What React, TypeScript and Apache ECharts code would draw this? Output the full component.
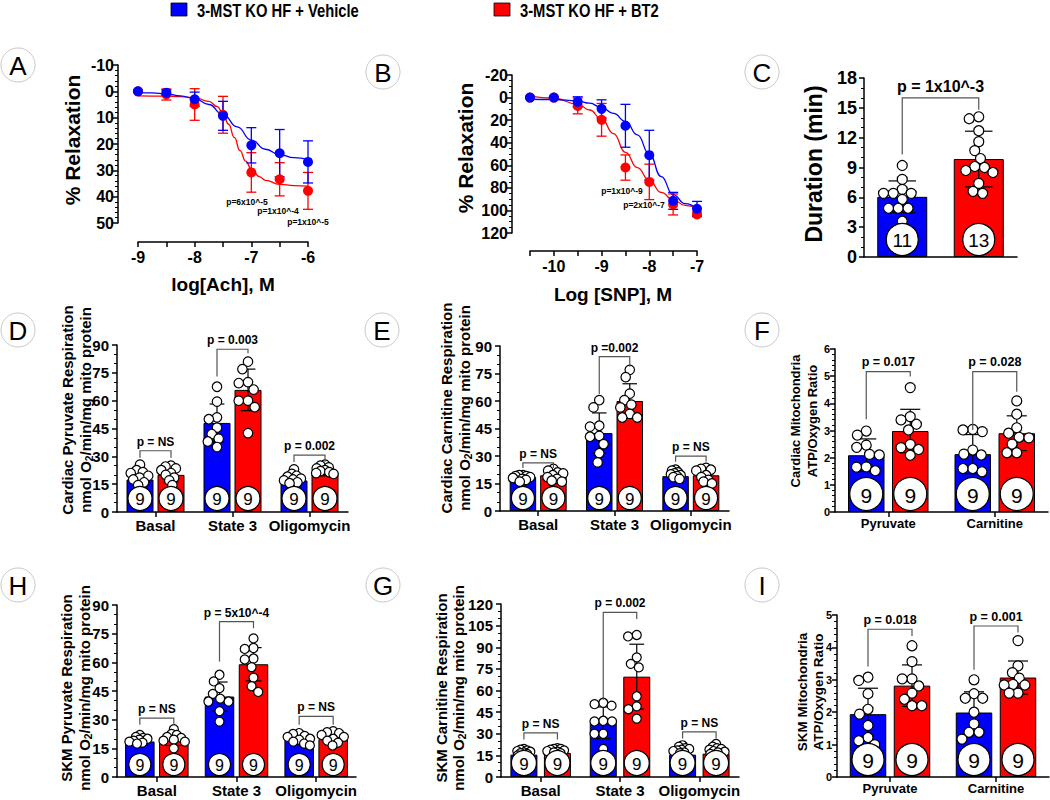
import React, { useEffect, useRef } from 'react';
import * as echarts from 'echarts';

const BLUE = '#0000FF';
const RED = '#FF0000';
const FONT = '"Liberation Sans", Arial, Helvetica, sans-serif';
const seriesNames = ['3-MST KO HF + Vehicle', '3-MST KO HF + BT2'];

// ---------- Panel A : log[Ach] ----------
const aDoses = [-9, -8.5, -8, -7.5, -7, -6.5, -6];
const aVehMean = [0, 0.5, 3, 9.3, 20.5, 23.5, 26.8];
const aVehSd = [0.4, 1, 2.7, 5.5, 6.7, 9, 8];
const aBt2Mean = [0, 1.2, 5, 8.9, 30.8, 33.4, 37.8];
const aBt2Sd = [0.4, 2.1, 6, 7, 7.5, 6.3, 7];
const aVehFit = [[-9, 0.4], [-8.75, 0.6], [-8.5, 1.0], [-8.25, 1.7], [-8, 2.8], [-7.75, 5], [-7.5, 8.8], [-7.25, 13.5], [-7, 18.5], [-6.75, 22], [-6.5, 24], [-6.25, 25.2], [-6, 25.8]];
const aBt2Fit = [[-9, 1.7], [-8.5, 1.8], [-8.25, 2.0], [-8, 2.4], [-7.75, 3.8], [-7.6, 5.8], [-7.5, 8.5], [-7.4, 12.5], [-7.3, 17.5], [-7.2, 22.5], [-7.1, 26.5], [-7, 29.5], [-6.85, 32.5], [-6.75, 33.8], [-6.5, 35.3], [-6.25, 35.8], [-6, 36]];
const aNotes = ['p=6x10^-5', 'p=1x10^-4', 'p=1x10^-5'];

// ---------- Panel B : Log [SNP] ----------
const bDoses = [-10.5, -10, -9.5, -9, -8.5, -8, -7.5, -7];
const bVehMean = [0, 0, 3.8, 10, 25, 51, 91.5, 98.5];
const bVehSd = [0.5, 0.5, 4.5, 8, 19, 22, 7.5, 6.5];
const bBt2Mean = [0, 0, 7.4, 19.7, 62, 74.7, 94.7, 103.5];
const bBt2Sd = [0.5, 0.5, 7, 14.5, 11.2, 15.7, 9.3, 2];
const bVehFit = [[-10.5, 1.5], [-10, 1.7], [-9.5, 3], [-9.25, 5], [-9, 8.8], [-8.75, 14], [-8.5, 21], [-8.25, 33], [-8, 50], [-7.75, 70], [-7.5, 86], [-7.25, 94], [-7, 98.5]];
const bBt2Fit = [[-10.5, -1.2], [-10, 0.6], [-9.5, 5.9], [-9.25, 11], [-9, 19], [-8.75, 32], [-8.5, 48.5], [-8.25, 62], [-8, 73.5], [-7.75, 84], [-7.5, 90.6], [-7.25, 95.6], [-7, 98.5]];
const bNotes = ['p=1x10^-9', 'p=2x10^-7'];

// ---------- Panel C : Duration ----------
const cCats = ['Vehicle', 'BT2'];
const cVehMean = [6.05];
const cVehSd = [1.6];
const cBt2Mean = [9.85];
const cBt2Sd = [2.8];
const cVehDots = [[9.2, 7.8, 6.8, 6.4, 6.4, 6.4, 5.8, 4.9, 4.9, 4.9, 3.6]];
const cBt2Dots = [[14.1, 13.9, 12.7, 11.6, 10.7, 9.9, 9.1, 9.0, 8.7, 8.5, 7.4, 6.6, 6.4]];
const cVehN = [11];
const cBt2N = [13];
const cBrackets = [{ text: 'p = 1x10^-3', top: 16.0, l: 10.3, r: 14.8 }];

// ---------- Respiration categories ----------
const respCats = ['Basal', 'State 3', 'Oligomycin'];
const ratioCats = ['Pyruvate', 'Carnitine'];

// ---------- Panel D ----------
const dVehMean = [17.5, 48, 17];
const dVehSd = [3.5, 10.2, 2.5];
const dBt2Mean = [20, 65.8, 21.5];
const dBt2Sd = [3.8, 11.2, 2];
const dVehDots = [[25.5, 22.5, 21.5, 21, 19.5, 18.5, 17.5, 16, 14.5], [67.5, 59.5, 51, 50, 45.5, 42, 39.5, 38, 35], [23, 20.5, 19.5, 19, 18, 17.5, 17, 16, 15.5]];
const dBt2Dots = [[25, 24.5, 23.5, 22.5, 21, 20, 18.5, 17, 14.5], [81, 77, 70, 69.5, 66, 60, 60, 56.5, 42.5], [25.5, 25, 24, 23.5, 22.5, 22, 21.5, 21, 20.5]];
const dN = [9, 9, 9];
const dBrackets = [
  { text: 'p = NS', top: 33, l: 29.3, r: 29.3 },
  { text: 'p = 0.003', top: 87.7, l: 73, r: 85.5 },
  { text: 'p = 0.002', top: 30.6, l: 27, r: 27 },
];

// ---------- Panel E ----------
const eVehMean = [18.5, 42.5, 19];
const eVehSd = [1.5, 11, 1.5];
const eBt2Mean = [19.5, 60, 19.5];
const eBt2Sd = [2.5, 9.4, 3];
const eVehDots = [[19.5, 19.5, 19, 19, 18.5, 18, 17.5, 17, 16], [60.5, 56.5, 46.5, 46, 41, 40.5, 36.5, 31.5, 26.5], [22.5, 22, 21, 20.5, 20, 19.5, 19, 18.5, 17.5]];
const eBt2Dots = [[23, 22, 21, 20.5, 19.5, 18.5, 17.5, 16.5, 16], [77, 73, 64, 60.5, 58, 56.5, 53, 51, 51], [23.5, 23, 22.5, 22, 19.5, 18.5, 17, 16, 15]];
const eN = [9, 9, 9];
const eBrackets = [
  { text: 'p = NS', top: 26.2, l: 23.5, r: 23.5 },
  { text: 'p =0.002', top: 84.2, l: 63.8, r: 78.7 },
  { text: 'p = NS', top: 29.9, l: 26.8, r: 26.8 },
];

// ---------- Panel F ----------
const fVehMean = [2.09, 2.13];
const fVehSd = [0.6, 0.72];
const fBt2Mean = [2.98, 2.9];
const fBt2Sd = [0.8, 0.64];
const fVehDots = [[2.98, 2.83, 2.46, 2.38, 2.12, 2.1, 1.66, 1.65, 1.52], [3.04, 3.02, 2.96, 2.28, 2.13, 2.1, 1.6, 1.6, 1.48]];
const fBt2Dots = [[4.58, 3.51, 3.39, 3.23, 3.02, 2.49, 2.37, 2.3, 2.09], [4.09, 3.6, 3.1, 2.9, 2.75, 2.73, 2.5, 2.18, 2.18]];
const fN = [9, 9];
const fBrackets = [
  { text: 'p = 0.017', top: 5.17, l: 3.41, r: 4.99 },
  { text: 'p = 0.028', top: 5.17, l: 3.02, r: 4.43 },
];

// ---------- Panel H ----------
const hVehMean = [18.6, 42.1, 19.5];
const hVehSd = [2, 7.6, 2.5];
const hBt2Mean = [19.5, 59, 19.8];
const hBt2Sd = [3, 8.7, 2.5];
const hVehDots = [[22, 21, 20.5, 20, 19.5, 19, 18.5, 18, 17.5], [53.5, 50, 46.5, 43.5, 41, 39.5, 39.5, 34.5, 29], [23, 22.5, 21.5, 21, 20, 19.5, 18.5, 17.5, 16.5]];
const hBt2Dots = [[25, 22.5, 22, 21, 20.5, 19.5, 19, 18.5, 15], [72.5, 67.5, 67, 62, 61.5, 57.5, 52, 47.5, 44.5], [24, 23.5, 23, 22, 21, 20, 19, 18, 16.5]];
const hN = [9, 9, 9];
const hBrackets = [
  { text: 'p = NS', top: 30.8, l: 27.3, r: 27.3 },
  { text: 'p = 5x10^-4', top: 81.3, l: 60.4, r: 77.8 },
  { text: 'p = NS', top: 31.7, l: 27.3, r: 27.3 },
];

// ---------- Panel G ----------
const gVehMean = [15.5, 37.6, 15.5];
const gVehSd = [2, 11, 2.5];
const gBt2Mean = [16.7, 69.6, 16.2];
const gBt2Sd = [1.5, 22.5, 2.5];
const gVehDots = [[19.5, 19, 18.5, 18, 17.5, 17, 16.5, 16, 15], [51.5, 50.5, 49.5, 39, 38.5, 38.5, 30, 30, 19.5], [22, 21, 20, 19.5, 19, 18.5, 18, 17, 16.5]];
const gBt2Dots = [[20, 19.5, 19.5, 19, 18.5, 18, 17.5, 17, 16.5], [98.5, 97.5, 83, 78.5, 76, 56, 49, 47, 40.5], [23, 21, 20, 19.5, 19, 18, 17.5, 17, 16]];
const gN = [9, 9, 9];
const gBrackets = [
  { text: 'p = NS', top: 30.6, l: 26, r: 26 },
  { text: 'p = 0.002', top: 114.2, l: 53.4, r: 109.6 },
  { text: 'p = NS', top: 31.3, l: 26.7, r: 26.7 },
];

// ---------- Panel I ----------
const iVehMean = [1.94, 1.99];
const iVehSd = [0.8, 0.64];
const iBt2Mean = [2.82, 3.07];
const iBt2Sd = [0.64, 0.51];
const iVehDots = [[3.08, 2.98, 2.57, 2.09, 1.94, 1.59, 1.22, 1.12, 1.0], [3.0, 2.57, 2.43, 2.43, 2.0, 1.64, 1.38, 1.38, 1.17]];
const iBt2Dots = [[4.05, 3.56, 3.03, 3.03, 2.81, 2.59, 2.4, 2.2, 2.2], [4.21, 3.43, 3.22, 3.05, 2.86, 2.84, 2.84, 2.59, 2.59]];
const iN = [9, 9];
const iBrackets = [
  { text: 'p = 0.018', top: 4.56, l: 3.41, r: 4.35 },
  { text: 'p = 0.001', top: 4.66, l: 3.31, r: 4.46 },
];

// ---------- helpers ----------
const axisLineStyle = { color: '#000', width: 1.5 };

function swarmOnce(values: number[], d: number, ppu: number): number[] {
  const order = values.map((_, i) => i).sort((a, b) => values[b] - values[a]);
  const placed: { x: number; y: number }[] = [];
  const res = new Array(values.length).fill(0);
  for (const i of order) {
    const y = values[i] * ppu;
    const near = placed.filter((p) => Math.abs(p.y - y) < d);
    const cands = [0];
    near.forEach((p) => {
      const dx = Math.sqrt(d * d - (p.y - y) * (p.y - y));
      cands.push(p.x - dx, p.x + dx);
    });
    cands.sort((a, b) => Math.abs(a) - Math.abs(b) || a - b);
    let chosen = 0;
    for (const c of cands) {
      if (near.every((p) => Math.hypot(c - p.x, p.y - y) >= d - 1e-6)) {
        chosen = c;
        break;
      }
    }
    placed.push({ x: chosen, y });
    res[i] = chosen;
  }
  return res;
}

function swarmOffsets(values: number[], d: number, ppu: number, limit: number): number[] {
  let offs = swarmOnce(values, d, ppu);
  for (let s = 0.9; s >= 0.35; s -= 0.05) {
    if (Math.max(...offs.map(Math.abs)) <= limit) break;
    offs = swarmOnce(values, d * s, ppu);
  }
  return offs.map((o) => Math.max(-limit, Math.min(limit, o)));
}

function labelStyle(size: number, margin: number, extra: any = {}) {
  return { color: '#000', fontFamily: FONT, fontWeight: 'bold', fontSize: size, margin, ...extra };
}

function addCurvePanel(p: any, acc: any) {
  const gi = acc.grid.length;
  acc.grid.push({ left: p.grid[0], top: p.grid[1], width: p.grid[2], height: p.grid[3] });
  acc.xAxis.push({
    type: 'value', gridIndex: gi, min: p.xMin, max: p.xMax, interval: 0.5, offset: p.xOffset,
    axisLine: { show: true, onZero: false, lineStyle: axisLineStyle },
    axisTick: { show: true, length: 5, lineStyle: axisLineStyle },
    axisLabel: labelStyle(16, 7, { formatter: (v: number) => (Math.abs(v - Math.round(v)) < 1e-6 ? String(Math.round(v)) : '') }),
    splitLine: { show: false },
  });
  acc.yAxis.push({
    type: 'value', gridIndex: gi, inverse: true, min: p.yMin, max: p.yMax, interval: p.yInt, offset: p.yOffset,
    axisLine: { show: true, onZero: false, lineStyle: axisLineStyle },
    axisTick: { show: true, length: 5, lineStyle: axisLineStyle },
    minorTick: { show: true, splitNumber: p.minor, length: 3, lineStyle: { color: '#000', width: 1 } },
    axisLabel: labelStyle(16, 4),
    splitLine: { show: false },
    minorSplitLine: { show: false },
  });
  const groups = [
    { name: seriesNames[1], color: RED, mean: p.bt2Mean, sd: p.bt2Sd, fit: p.bt2Fit },
    { name: seriesNames[0], color: BLUE, mean: p.vehMean, sd: p.vehSd, fit: p.vehFit },
  ];
  groups.forEach((g) => {
    acc.series.push({
      type: 'line', name: g.name + ' fit', xAxisIndex: gi, yAxisIndex: gi,
      data: g.fit, smooth: true, smoothMonotone: 'x', showSymbol: false, symbol: 'none',
      lineStyle: { color: g.color, width: 1.3 }, z: 2, silent: true, clip: false,
    });
    acc.series.push({
      type: 'custom', name: g.name + ' SD', xAxisIndex: gi, yAxisIndex: gi, clip: false, z: 3, silent: true,
      data: p.doses.map((x: number, i: number) => [x, g.mean[i], g.sd[i]]),
      encode: { x: 0, y: 1 },
      renderItem: (_: any, api: any) => {
        const x = api.value(0), m = api.value(1), s = api.value(2);
        const t = api.coord([x, m - s]);
        const b = api.coord([x, m + s]);
        const st = { stroke: g.color, lineWidth: 1.3 };
        return {
          type: 'group', children: [
            { type: 'line', shape: { x1: t[0], y1: t[1], x2: b[0], y2: b[1] }, style: st },
            { type: 'line', shape: { x1: t[0] - 5, y1: t[1], x2: t[0] + 5, y2: t[1] }, style: st },
            { type: 'line', shape: { x1: b[0] - 5, y1: b[1], x2: b[0] + 5, y2: b[1] }, style: st },
          ],
        };
      },
    });
    acc.series.push({
      type: 'scatter', name: g.name, xAxisIndex: gi, yAxisIndex: gi,
      data: p.doses.map((x: number, i: number) => [x, g.mean[i]]),
      symbol: 'circle', symbolSize: 10, itemStyle: { color: g.color, opacity: 1 }, z: 4, clip: false, silent: true,
    });
  });
}

function addBarPanel(p: any, acc: any) {
  const gi = acc.grid.length;
  const [gl, gt, gw, gh] = p.grid;
  acc.grid.push({ left: gl, top: gt, width: gw, height: gh });
  acc.xAxis.push({
    type: 'category', gridIndex: gi, data: p.cats,
    axisLine: { show: true, lineStyle: axisLineStyle },
    axisTick: { show: p.showCats, alignWithLabel: true, length: 5, lineStyle: axisLineStyle },
    axisLabel: labelStyle(p.catFont, p.catMargin, { show: p.showCats, interval: 0 }),
    splitLine: { show: false },
  });
  acc.yAxis.push({
    type: 'value', gridIndex: gi, min: 0, max: p.yMax, interval: p.yInt,
    axisLine: { show: true, lineStyle: axisLineStyle },
    axisTick: { show: true, length: 5, lineStyle: axisLineStyle },
    minorTick: { show: true, splitNumber: p.minor, length: 3, lineStyle: { color: '#000', width: 1 } },
    axisLabel: labelStyle(p.tickFont, p.yMargin),
    splitLine: { show: false },
    minorSplitLine: { show: false },
  });
  const ppu = gh / p.yMax;
  const off = p.single ? 0 : (p.barW + p.gap) / 2;
  const bars: any[] = [];
  if (p.single) {
    bars.push({ cat: 0, off: 0, mean: p.vehMean[0], sd: p.vehSd[0], dots: p.vehDots[0], n: p.vehN[0] });
    bars.push({ cat: 1, off: 0, mean: p.bt2Mean[0], sd: p.bt2Sd[0], dots: p.bt2Dots[0], n: p.bt2N[0] });
  } else {
    p.cats.forEach((_: string, i: number) => {
      bars.push({ cat: i, off: -off, mean: p.vehMean[i], sd: p.vehSd[i], dots: p.vehDots[i], n: p.vehN[i] });
      bars.push({ cat: i, off: off, mean: p.bt2Mean[i], sd: p.bt2Sd[i], dots: p.bt2Dots[i], n: p.bt2N[i] });
    });
  }
  const barCommon = { xAxisIndex: gi, yAxisIndex: gi, barWidth: p.barW, z: 2, silent: true };
  if (p.single) {
    acc.series.push({ ...barCommon, type: 'bar', name: seriesNames[0], stack: 'c' + gi, data: [p.vehMean[0], '-'], itemStyle: { color: BLUE, borderColor: '#000', borderWidth: 1 } });
    acc.series.push({ ...barCommon, type: 'bar', name: seriesNames[1], stack: 'c' + gi, data: ['-', p.bt2Mean[0]], itemStyle: { color: RED, borderColor: '#000', borderWidth: 1 } });
  } else {
    const barGap = (p.gap / p.barW) * 100 + '%';
    acc.series.push({ ...barCommon, type: 'bar', name: seriesNames[0], barGap, data: p.vehMean, itemStyle: { color: BLUE, borderColor: '#000', borderWidth: 1 } });
    acc.series.push({ ...barCommon, type: 'bar', name: seriesNames[1], barGap, data: p.bt2Mean, itemStyle: { color: RED, borderColor: '#000', borderWidth: 1 } });
  }
  const capHalf = (p.barW * 0.55) / 2;
  // error bars
  acc.series.push({
    type: 'custom', name: 'SD', xAxisIndex: gi, yAxisIndex: gi, clip: false, z: 3, silent: true,
    data: bars.map((b) => [b.cat, b.mean, b.sd, b.off]),
    encode: { x: 0, y: 1 },
    renderItem: (_: any, api: any) => {
      const c = api.value(0), m = api.value(1), s = api.value(2), o = api.value(3);
      const t = api.coord([c, m + s]);
      const b = api.coord([c, m - s]);
      const x = t[0] + o;
      const st = { stroke: '#000', lineWidth: 1.2 };
      return {
        type: 'group', children: [
          { type: 'line', shape: { x1: x, y1: t[1], x2: x, y2: b[1] }, style: st },
          { type: 'line', shape: { x1: x - capHalf, y1: t[1], x2: x + capHalf, y2: t[1] }, style: st },
          { type: 'line', shape: { x1: x - capHalf, y1: b[1], x2: x + capHalf, y2: b[1] }, style: st },
        ],
      };
    },
  });
  // individual dots
  const dotData: any[] = [];
  const limit = p.barW / 2 - p.dotD * 0.35;
  bars.forEach((b) => {
    const offs = swarmOffsets(b.dots, p.dotD * 0.98, ppu, limit);
    b.dots.forEach((v: number, k: number) => dotData.push([b.cat, v, b.off + offs[k]]));
  });
  acc.series.push({
    type: 'custom', name: 'Individual values', xAxisIndex: gi, yAxisIndex: gi, clip: false, z: 4, silent: true,
    data: dotData, encode: { x: 0, y: 1 },
    renderItem: (_: any, api: any) => {
      const c = api.coord([api.value(0), api.value(1)]);
      return { type: 'circle', shape: { cx: c[0] + api.value(2), cy: c[1], r: p.dotD / 2 }, style: { fill: '#fff', stroke: '#000', lineWidth: 1.2 } };
    },
  });
  // n circles
  acc.series.push({
    type: 'custom', name: 'n', xAxisIndex: gi, yAxisIndex: gi, clip: false, z: 5, silent: true,
    data: bars.map((b) => [b.cat, 0, b.off, b.n]), encode: { x: 0, y: 1 },
    renderItem: (_: any, api: any) => {
      const c = api.coord([api.value(0), 0]);
      const cx = c[0] + api.value(2);
      const cy = c[1] - p.circleR - 1.5;
      return {
        type: 'group', children: [
          { type: 'circle', shape: { cx, cy, r: p.circleR }, style: { fill: '#fff', stroke: '#000', lineWidth: 1.2 } },
          { type: 'text', x: cx, y: cy + 1, style: { text: String(api.value(3)), align: 'center', textAlign: 'center', verticalAlign: 'middle', textVerticalAlign: 'middle', fontSize: p.nFont, fontFamily: FONT, fill: '#000' } },
        ],
      };
    },
  });
  // brackets
  acc.series.push({
    type: 'custom', name: 'p values', xAxisIndex: gi, yAxisIndex: gi, clip: false, z: 5, silent: true,
    data: p.brackets.map((b: any, i: number) => (p.single ? [0, b.top, b.l, b.r, 0, 1, 0] : [i, b.top, b.l, b.r, -off, i, off])),
    encode: { x: 0, y: 1 },
    renderItem: (params: any, api: any) => {
      const b = p.brackets[params.dataIndex];
      const pL = api.coord([api.value(0), api.value(2)]);
      const pT = api.coord([api.value(0), api.value(1)]);
      const pR = api.coord([api.value(5), api.value(3)]);
      const xl = pL[0] + api.value(4);
      const xr = pR[0] + api.value(6);
      return {
        type: 'group', children: [
          { type: 'polyline', shape: { points: [[xl, pL[1]], [xl, pT[1]], [xr, pT[1]], [xr, pR[1]]] }, style: { stroke: '#555', lineWidth: 1.2, fill: null } },
          { type: 'text', x: (xl + xr) / 2, y: pT[1] - 3, style: { text: b.text, align: 'center', textAlign: 'center', verticalAlign: 'bottom', textVerticalAlign: 'bottom', fontSize: p.pFont, fontWeight: 'bold', fontFamily: FONT, fill: '#000' } },
        ],
      };
    },
  });
}

function gText(x: number, y: number, text: string, size: number, opts: any = {}) {
  return {
    type: 'text', x, y, rotation: opts.rot || 0, scaleX: opts.sx || 1, silent: true, z: 10,
    style: {
      text, font: `${opts.weight || 'bold'} ${size}px ${FONT}`, fill: '#000',
      align: opts.align || 'center', textAlign: opts.align || 'center',
      verticalAlign: 'middle', textVerticalAlign: 'middle',
      rich: opts.rich,
    },
  };
}

function subTitle(x: number, y: number, size: number) {
  return gText(x, y, 'nmol O{sub|2}/min/mg mito protein', size, {
    rot: Math.PI / 2,
    rich: { sub: { fontSize: size * 0.68, fontWeight: 'bold', fontFamily: FONT, padding: [8, 0, 0, 0] } },
  });
}

function panelLetter(x: number, y: number, letter: string) {
  return [
    { type: 'circle', shape: { cx: x, cy: y, r: 17 }, style: { fill: '#fff', stroke: '#c8c8c8', lineWidth: 1 }, silent: true, z: 9 },
    gText(x, y + 1, letter, 26, { weight: 'normal' }),
  ];
}

function buildOption() {
  const acc: any = { grid: [], xAxis: [], yAxis: [], series: [] };
  addCurvePanel({ grid: [138, 65, 170, 158], xMin: -9, xMax: -6, xOffset: 19, yMin: -10, yMax: 50, yInt: 10, yOffset: 20, minor: 5,
    doses: aDoses, vehMean: aVehMean, vehSd: aVehSd, bt2Mean: aBt2Mean, bt2Sd: aBt2Sd, vehFit: aVehFit, bt2Fit: aBt2Fit }, acc);
  addCurvePanel({ grid: [530, 75, 167, 158], xMin: -10.5, xMax: -7, xOffset: 18, yMin: -20, yMax: 120, yInt: 20, yOffset: 18, minor: 4,
    doses: bDoses, vehMean: bVehMean, vehSd: bVehSd, bt2Mean: bBt2Mean, bt2Sd: bBt2Sd, vehFit: bVehFit, bt2Fit: bBt2Fit }, acc);
  addBarPanel({ single: true, grid: [864, 78, 153, 179], cats: cCats, showCats: false, yMax: 18, yInt: 3, minor: 3, barW: 50, gap: 0,
    vehMean: cVehMean, vehSd: cVehSd, bt2Mean: cBt2Mean, bt2Sd: cBt2Sd, vehDots: cVehDots, bt2Dots: cBt2Dots, vehN: cVehN, bt2N: cBt2N, brackets: cBrackets,
    dotD: 10, circleR: 16, nFont: 19, tickFont: 18, yMargin: 7, catFont: 15, catMargin: 6, pFont: 16 }, acc);
  const resp = { cats: respCats, showCats: true, minor: 3, yInt: 15, catFont: 15, catMargin: 6, tickFont: 15, yMargin: 8, pFont: 12 };
  addBarPanel({ ...resp, grid: [117, 345, 231, 167], yMax: 90, barW: 27, gap: 4, dotD: 9.5, circleR: 12, nFont: 17,
    vehMean: dVehMean, vehSd: dVehSd, bt2Mean: dBt2Mean, bt2Sd: dBt2Sd, vehDots: dVehDots, bt2Dots: dBt2Dots, vehN: dN, bt2N: dN, brackets: dBrackets }, acc);
  addBarPanel({ ...resp, grid: [500, 346, 229, 165], yMax: 90, barW: 26.5, gap: 4, dotD: 9.5, circleR: 11.5, nFont: 17,
    vehMean: eVehMean, vehSd: eVehSd, bt2Mean: eBt2Mean, bt2Sd: eBt2Sd, vehDots: eVehDots, bt2Dots: eBt2Dots, vehN: eN, bt2N: eN, brackets: eBrackets }, acc);
  addBarPanel({ cats: ratioCats, showCats: true, minor: 5, yInt: 1, catFont: 13, catMargin: 5, tickFont: 11, yMargin: 5, pFont: 12.5,
    grid: [835, 349, 213, 163], yMax: 6, barW: 36.5, gap: 7.5, dotD: 10, circleR: 16.5, nFont: 21,
    vehMean: fVehMean, vehSd: fVehSd, bt2Mean: fBt2Mean, bt2Sd: fBt2Sd, vehDots: fVehDots, bt2Dots: fBt2Dots, vehN: fN, bt2N: fN, brackets: fBrackets }, acc);
  addBarPanel({ ...resp, grid: [117, 605, 239, 172], yMax: 90, barW: 29.5, gap: 4.5, dotD: 9, circleR: 11, nFont: 16,
    vehMean: hVehMean, vehSd: hVehSd, bt2Mean: hBt2Mean, bt2Sd: hBt2Sd, vehDots: hVehDots, bt2Dots: hBt2Dots, vehN: hN, bt2N: hN, brackets: hBrackets }, acc);
  addBarPanel({ ...resp, grid: [501, 604, 238, 173], yMax: 120, barW: 27, gap: 6.5, dotD: 9, circleR: 12.5, nFont: 17,
    vehMean: gVehMean, vehSd: gVehSd, bt2Mean: gBt2Mean, bt2Sd: gBt2Sd, vehDots: gVehDots, bt2Dots: gBt2Dots, vehN: gN, bt2N: gN, brackets: gBrackets }, acc);
  addBarPanel({ cats: ratioCats, showCats: true, minor: 5, yInt: 1, catFont: 13, catMargin: 5, tickFont: 11, yMargin: 5, pFont: 12.5,
    grid: [837, 615, 212, 162], yMax: 5, barW: 36.5, gap: 7.5, dotD: 10, circleR: 16, nFont: 21,
    vehMean: iVehMean, vehSd: iVehSd, bt2Mean: iBt2Mean, bt2Sd: iBt2Sd, vehDots: iVehDots, bt2Dots: iBt2Dots, vehN: iN, bt2N: iN, brackets: iBrackets }, acc);

  const rot = Math.PI / 2;
  const elements: any[] = [
    // legend
    { type: 'rect', shape: { x: 171, y: 3, width: 16, height: 13 }, style: { fill: BLUE, stroke: '#000', lineWidth: 0.8 }, silent: true },
    gText(197, 10, seriesNames[0], 18, { align: 'left', sx: 0.82 }),
    { type: 'rect', shape: { x: 494, y: 3, width: 16, height: 13 }, style: { fill: RED, stroke: '#000', lineWidth: 0.8 }, silent: true },
    gText(520, 10, seriesNames[1], 18, { align: 'left', sx: 0.82 }),
    // panel letters
    ...panelLetter(18, 65, 'A'),
    ...panelLetter(383, 72, 'B'),
    ...panelLetter(762, 72, 'C'),
    ...panelLetter(18, 330, 'D'),
    ...panelLetter(382, 330, 'E'),
    ...panelLetter(762, 330, 'F'),
    ...panelLetter(18, 585, 'H'),
    ...panelLetter(383, 585, 'G'),
    ...panelLetter(762, 585, 'I'),
    // axis titles
    gText(72, 140, '% Relaxation', 21, { rot }),
    gText(223, 284, 'log[Ach], M', 19),
    gText(465, 148, '% Relaxation', 21, { rot }),
    gText(613, 294, 'Log [SNP], M', 19),
    gText(814, 164, 'Duration (min)', 23, { rot }),
    gText(67, 410, 'Cardiac Pyruvate Respiration', 15, { rot }),
    subTitle(85, 410, 15),
    gText(446, 408, 'Cardiac Carnitine Respiration', 15, { rot }),
    subTitle(464, 408, 15),
    gText(795, 421, 'Cardiac Mitochondria', 13, { rot }),
    gText(812, 421, 'ATP/Oxygen Ratio', 13, { rot }),
    gText(66, 688, 'SKM Pyruvate Respiration', 15, { rot }),
    subTitle(84, 688, 15),
    gText(441, 688, 'SKM Carnitine Respiration', 15, { rot }),
    subTitle(458, 688, 15),
    gText(802, 692, 'SKM Mitochondria', 13.5, { rot }),
    gText(818, 692, 'ATP/Oxygen Ratio', 13.5, { rot }),
    // curve p-values
    gText(247, 202, aNotes[0], 8.5),
    gText(278, 211, aNotes[1], 8.5),
    gText(308, 222, aNotes[2], 8.5),
    gText(622, 191, bNotes[0], 8.5),
    gText(644, 205, bNotes[1], 8.5),
  ];

  return {
    animation: false,
    backgroundColor: '#fff',
    textStyle: { fontFamily: FONT },
    grid: acc.grid,
    xAxis: acc.xAxis,
    yAxis: acc.yAxis,
    series: acc.series,
    graphic: { elements },
  };
}

export default function App() {
  const ref = useRef<HTMLDivElement>(null);
  useEffect(() => {
    document.body.style.margin = '0';
    const chart = echarts.init(ref.current as HTMLDivElement, null, { renderer: 'svg', width: 1050, height: 800 });
    chart.setOption(buildOption() as any);
    return () => chart.dispose();
  }, []);
  return <div ref={ref} style={{ width: 1050, height: 800 }} />;
}
